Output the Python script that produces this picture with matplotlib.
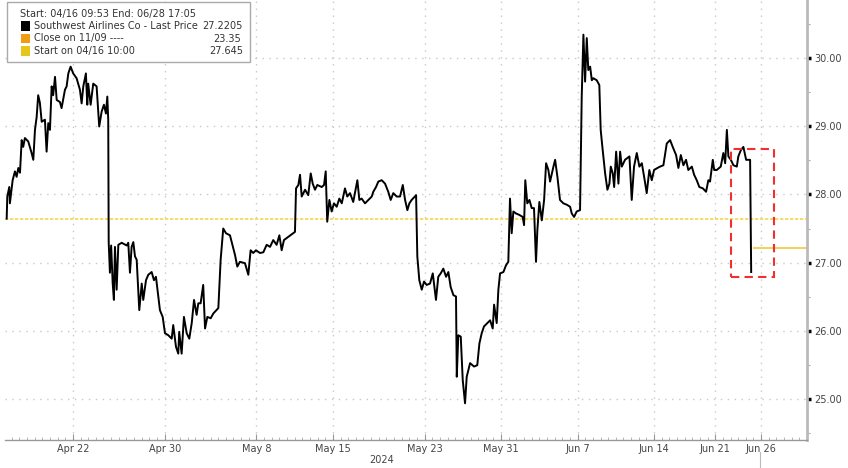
import matplotlib
matplotlib.use("Agg")
from matplotlib import pyplot as plt
from matplotlib.patches import Rectangle
from matplotlib.lines import Line2D

# trading-day position (0 = Apr 16 open) and last price
t_days = [-0.33, -0.29, -0.16, -0.12, 0.06, 0.21, 0.32, 0.43, 0.54, 0.65, 0.75, 0.86, 1.08, 1.30,
          1.41, 1.52, 1.63, 1.73, 1.84, 1.96, 2.17, 2.28, 2.39, 2.50, 2.61, 2.71, 2.83, 2.94,
          3.15, 3.26, 3.48, 3.59, 3.70, 3.85, 4.02, 4.24, 4.46, 4.57, 4.68, 4.85, 4.94, 5.00,
          5.16, 5.33, 5.55, 5.72, 5.88, 6.03, 6.16, 6.25, 6.31, 6.34, 6.42, 6.50, 6.60, 6.68,
          6.75, 6.86, 6.97, 7.19, 7.52, 7.62, 7.73, 7.84, 7.95, 8.06, 8.17, 8.34, 8.50, 8.60,
          8.78, 8.93, 9.15, 9.30, 9.43, 9.58, 9.69, 9.87, 10.02, 10.24, 10.46, 10.56, 10.74,
          10.89, 10.95, 11.11, 11.26, 11.44, 11.61, 11.77, 11.92, 12.09, 12.20, 12.35, 12.52,
          12.64, 12.79, 13.01, 13.18, 13.51, 13.66, 13.83, 14.01, 14.27, 14.60, 14.75, 14.92,
          15.25, 15.47, 15.62, 15.79, 15.97, 16.23, 16.45, 16.67, 16.89, 17.10, 17.32, 17.50,
          17.65, 17.80, 17.98, 18.41, 18.52, 18.59, 18.74, 18.85, 18.96, 19.18, 19.39, 19.55,
          19.68, 19.83, 19.98, 20.27, 20.42, 20.53, 20.63, 20.77, 20.92, 21.07, 21.25, 21.42,
          21.58, 21.79, 21.94, 22.12, 22.33, 22.60, 22.73, 22.88, 23.10, 23.32, 23.54, 23.64,
          23.82, 23.97, 24.19, 24.41, 24.62, 24.78, 24.95, 25.17, 25.39, 25.57, 25.72, 25.87,
          26.00, 26.15, 26.44, 26.52, 26.65, 26.81, 26.96, 27.13, 27.35, 27.53, 27.74, 27.89,
          28.05, 28.22, 28.40, 28.55, 28.70, 28.88, 29.05, 29.10, 29.20, 29.36, 29.49, 29.64,
          29.75, 29.97, 30.23, 30.44, 30.58, 30.73, 30.88, 31.10, 31.28, 31.45, 31.54, 31.71,
          31.82, 31.93, 32.15, 32.32, 32.47, 32.58, 32.69, 32.80, 32.98, 33.19, 33.41, 33.50,
          33.58, 33.71, 33.85, 34.00, 34.15, 34.28, 34.37, 34.50, 34.66, 34.81, 34.94, 35.09,
          35.20, 35.42, 35.53, 35.68, 35.85, 36.07, 36.29, 36.51, 36.62, 36.77, 36.94, 37.16,
          37.27, 37.38, 37.49, 37.60, 37.70, 37.82, 37.93, 38.03, 38.25, 38.42, 38.51, 38.62,
          38.80, 38.95, 39.08, 39.17, 39.30, 39.39, 39.52, 39.67, 39.78, 39.89, 40.10, 40.39,
          40.54, 40.69, 40.87, 41.04, 41.20, 41.35, 41.52, 41.69, 41.85, 42.00, 42.22, 42.39,
          42.61, 42.83, 43.05, 43.22, 43.44, 43.59, 43.75, 43.92, 44.09, 44.24, 44.47, 44.62,
          44.79, 44.96, 45.19, 45.40, 45.55, 45.66, 45.84, 45.93, 46.10, 46.36, 46.53, 46.65,
          46.76, 46.86, 47.02, 47.19, 47.41, 47.51, 47.67, 47.84, 48.02, 48.28, 48.35]
price = [27.645, 27.97, 28.11, 27.87, 28.21, 28.34, 28.26, 28.39, 28.32, 28.80, 28.70, 28.83, 28.78, 28.61,
         28.51, 28.95, 29.14, 29.46, 29.35, 29.07, 29.10, 28.63, 29.05, 28.95, 29.59, 29.46, 29.73, 29.39,
         29.36, 29.27, 29.54, 29.59, 29.78, 29.88, 29.78, 29.71, 29.54, 29.34, 29.59, 29.78, 29.32, 29.63,
         29.32, 29.63, 29.59, 29.00, 29.22, 29.32, 29.19, 29.44, 29.10, 27.30, 26.85, 27.25, 26.70, 26.45,
         27.23, 26.60, 27.26, 27.29, 27.25, 27.29, 26.85, 27.23, 27.30, 27.09, 27.04, 26.30, 26.69, 26.45,
         26.74, 26.82, 26.86, 26.74, 26.79, 26.50, 26.30, 26.20, 25.96, 25.93, 25.88, 26.08, 25.76,
         25.66, 25.98, 25.66, 26.20, 25.96, 25.88, 26.11, 26.45, 26.23, 26.40, 26.40, 26.67,
         26.03, 26.20, 26.18, 26.25, 26.33, 27.04, 27.50, 27.43, 27.40, 27.11, 26.94, 27.01,
         26.99, 26.82, 27.18, 27.14, 27.18, 27.14, 27.15, 27.26, 27.23, 27.33, 27.26, 27.40,
         27.18, 27.33, 27.36, 27.43, 27.45, 28.09, 28.14, 28.29, 27.97, 28.07, 27.99, 28.31,
         28.16, 28.07, 28.14, 28.11, 28.14, 28.34, 27.60, 27.92, 27.75, 27.87, 27.82, 27.94,
         27.87, 28.09, 27.97, 28.02, 27.89, 28.21, 27.92, 27.94, 27.87, 27.92, 27.97, 28.04,
         28.11, 28.19, 28.21, 28.16, 28.04, 27.92, 28.02, 27.97, 27.97, 28.14, 27.92, 27.77,
         27.87, 27.92, 27.99, 27.09, 26.74, 26.60, 26.72, 26.67, 26.69, 26.84, 26.45, 26.79,
         26.84, 26.91, 26.79, 26.86, 26.64, 26.52, 26.50, 25.32, 25.93, 25.91, 25.27, 24.93,
         25.32, 25.52, 25.47, 25.49, 25.81, 25.96, 26.06, 26.11, 26.15, 26.03, 26.38, 26.11,
         26.60, 26.84, 26.86, 26.96, 27.01, 27.94, 27.43, 27.75, 27.72, 27.70, 27.67, 27.55,
         28.21, 27.87, 27.92, 27.80, 27.80, 27.01, 27.48, 27.89, 27.62, 27.92, 28.46, 28.36,
         28.19, 28.41, 28.51, 28.26, 27.92, 27.87, 27.85, 27.82, 27.72, 27.67, 27.75, 27.77,
         29.44, 30.35, 29.66, 30.30, 29.83, 29.88, 29.68, 29.71, 29.68, 29.61, 28.95, 28.70,
         28.31, 28.07, 28.16, 28.41, 28.31, 28.11, 28.63, 28.16, 28.63, 28.41, 28.51, 28.56,
         27.92, 28.41, 28.61, 28.41, 28.46, 28.26, 28.02, 28.36, 28.21, 28.36, 28.39, 28.41,
         28.43, 28.75, 28.80, 28.70, 28.58, 28.39, 28.58, 28.43, 28.51, 28.36, 28.41, 28.29,
         28.21, 28.11, 28.09, 28.04, 28.21, 28.19, 28.51, 28.36, 28.36, 28.41, 28.61, 28.46,
         28.95, 28.56, 28.51, 28.43, 28.41, 28.56, 28.65, 28.70, 28.51, 28.51, 26.86]

# date ticks (trading-day positions)
tick_pos = [4, 10, 16, 21, 27, 32, 37, 42, 46, 49]
tick_labels = ['Apr 22', 'Apr 30', 'May 8', 'May 15', 'May 23', 'May 31',
               'Jun 7', 'Jun 14', 'Jun 21', 'Jun 26']
y_ticks = [25, 26, 27, 28, 29, 30]

start_price = 27.645
close_price = 23.35
last_price = 27.2205
last_start = 48.46
# highlighted box: x from/to (days), y from/to (price)
box_x = [47.04, 49.85]
box_y = [26.79, 28.67]

W, H = 848, 468
fig = plt.figure(figsize=(W / 100, H / 100), dpi=100)
ax = fig.add_axes([5 / W, 28 / H, 802 / W, 440 / H])

ax.plot(t_days, price, color='black', linewidth=1.4, zorder=4)
ax.axhline(start_price, color='#f3d54e', linewidth=1.2, linestyle=(0, (2, 1)), zorder=2)
ax.hlines(last_price, last_start, 52, color='#eccb3c', linewidth=1.2, zorder=2)
ax.add_patch(Rectangle((box_x[0], box_y[0]), box_x[1] - box_x[0], box_y[1] - box_y[0],
                       fill=False, edgecolor='#f03030', linewidth=1.5,
                       linestyle=(0, (4, 2.5)), zorder=5))

ax.set_xlim(-0.44, 52.0)
ax.set_ylim(24.39, 30.86)

# right y axis
ax.yaxis.tick_right()
ax.set_yticks(y_ticks)
ax.set_yticklabels(['%.2f' % v for v in y_ticks])
ax.set_yticks([24.5, 25.5, 26.5, 27.5, 28.5, 29.5, 30.5], minor=True)
ax.tick_params(axis='y', which='major', direction='out', length=3, width=2.5,
               color='black', labelsize=7, labelcolor='#444444', pad=2)
ax.tick_params(axis='y', which='minor', direction='out', length=2, width=0.8, color='#aaaaaa')

# bottom date axis
ax.set_xticks(tick_pos)
ax.set_xticklabels(tick_labels)
ax.set_xticks([i * 0.5 for i in range(0, 104)], minor=True)
ax.tick_params(axis='x', which='major', direction='in', length=4, width=0.8,
               color='#999999', labelsize=7, labelcolor='#444444', pad=3)
ax.tick_params(axis='x', which='minor', direction='in', length=2, width=0.6, color='#aaaaaa')

for s in ['top', 'left']:
    ax.spines[s].set_visible(False)
ax.spines['right'].set_color('#bbbbbb')
ax.spines['right'].set_linewidth(2)
ax.spines['bottom'].set_color('#999999')
ax.spines['bottom'].set_linewidth(1)

ax.grid(True, which='major', color='#c8c8c8', linestyle=(0, (1, 4)), linewidth=1)

fig.text(382 / W, 1 - 460 / H, '2024', fontsize=7, color='#444444', ha='center', va='center')
# small marker line under the last date label
fig.lines.append(Line2D([760 / W, 760 / W], [0, 1 - 452 / H], transform=fig.transFigure,
                        color='#bbbbbb', linewidth=0.8))


# legend box in the top left, positioned in pixels
def px(x, y):
    return x / W, 1 - y / H


fig.patches.append(Rectangle(px(7, 62), 243 / W, 60 / H, transform=fig.transFigure,
                             facecolor='white', edgecolor='#aaaaaa', linewidth=1, zorder=6))
fig.text(*px(20, 14), 'Start: 04/16 09:53 End: 06/28 17:05', fontsize=7, color='#333333',
         va='center', zorder=7)
rows = [('Southwest Airlines Co - Last Price', '%.4f' % last_price, 'black', 202),
        ('Close on 11/09 ----', '%.2f' % close_price, '#f39c12', 213),
        ('Start on 04/16 10:00', '%.3f' % start_price, '#e6c619', 209)]
for i, (name, val, col, vx) in enumerate(rows):
    yc = 26 + i * 12.5
    fig.patches.append(Rectangle(px(21, yc + 4.5), 9 / W, 9 / H, transform=fig.transFigure,
                                 facecolor=col, edgecolor='none', zorder=7))
    fig.text(*px(34, yc), name, fontsize=7, color='#333333', va='center', zorder=7)
    fig.text(*px(vx, yc), val, fontsize=7, color='#333333', va='center', zorder=7)

plt.savefig('out.png', dpi=100)
